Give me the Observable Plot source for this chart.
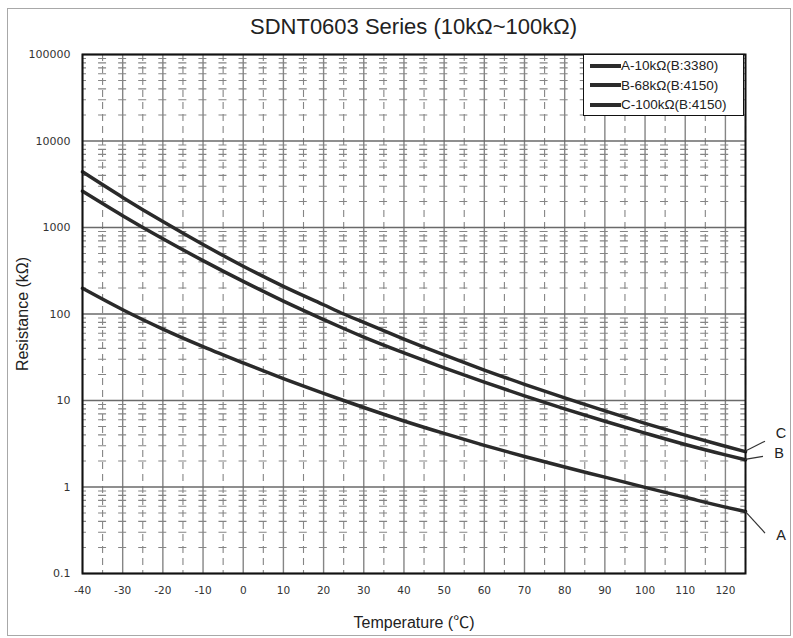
<!DOCTYPE html>
<html>
<head>
<meta charset="utf-8">
<script src="https://cdn.jsdelivr.net/npm/d3@7"></script>
<script src="https://cdn.jsdelivr.net/npm/@observablehq/plot@0.6"></script>
<style>
  html, body { margin: 0; padding: 0; background: #fff; }
  #wrap { position: relative; width: 793px; height: 638px; overflow: hidden; font-family: "Liberation Sans", Arial, sans-serif; }
  #border { position: absolute; left: 7px; top: 8px; width: 784px; height: 628px; border: 1px solid #a8a8a8; box-sizing: border-box; }
  #title { position: absolute; left: 82px; width: 663px; top: 14px; text-align: center; font-size: 22px; color: #222; }
  #chart { position: absolute; left: 0; top: 40px; }
  #legend { position: absolute; left: 583px; top: 54px; width: 161px; height: 62px; border: 1.5px solid #111; background: #fff; box-sizing: border-box; font-family: "Liberation Sans", Arial, sans-serif; font-size: 13.5px; color: #222; padding-top: 1px; }
  .item { height: 19.5px; display: flex; align-items: center; white-space: nowrap; }
  .sw { width: 31px; height: 4px; background: #2b2b2b; margin-left: 6px; }
</style>
</head>
<body>
<div id="wrap">
  <div id="border"></div>
  <div id="title">SDNT0603 Series (10kΩ~100kΩ)</div>
  <div id="chart"></div>
  <div id="legend"></div>
</div>
<script>
// Data (kΩ vs °C)
const temps = [-40, -30, -20, -10, 0, 10, 20, 25, 30, 40, 50, 60, 70, 80, 90, 100, 110, 120, 125];
const seriesA = [198, 112, 67, 42, 27.2, 17.9, 12.1, 10, 8.3, 5.8, 4.16, 3.03, 2.25, 1.7, 1.3, 0.99, 0.76, 0.585, 0.52];
const seriesB = [2630, 1371, 741, 414, 238, 141, 86.3, 68, 54.1, 35.5, 23.8, 16.3, 11.3, 8.0, 5.75, 4.2, 3.1, 2.35, 2.06];
const seriesC = [4400, 2228, 1170, 635, 357, 209, 128, 100, 80, 51.3, 33.6, 22.5, 15.4, 10.7, 7.57, 5.45, 3.98, 2.96, 2.56];
const seriesNames = ["A", "B", "C"];
const legendLabels = ["A-10kΩ(B:3380)", "B-68kΩ(B:4150)", "C-100kΩ(B:4150)"];
const xTicks = [-40, -30, -20, -10, 0, 10, 20, 30, 40, 50, 60, 70, 80, 90, 100, 110, 120];
const yTicks = [0.1, 1, 10, 100, 1000, 10000, 100000];
const yTickLabels = ["0.1", "1", "10", "100", "1000", "10000", "100000"];
const xMinor = [-35, -25, -15, -5, 5, 15, 25, 35, 45, 55, 65, 75, 85, 95, 105, 115, 125];
const yMinor = [];
for (let d = 0.1; d < 100000; d *= 10) for (let k = 2; k <= 9; k++) yMinor.push(+(d * k).toPrecision(3));

const allSeries = [seriesA, seriesB, seriesC];
const rows = [];
allSeries.forEach((vals, i) => temps.forEach((t, j) => rows.push({ s: seriesNames[i], T: t, R: vals[j] })));

const yFmt = (d) => yTickLabels[yTicks.findIndex((v) => Math.abs(v - d) / v < 1e-6)];
const xFmt = (d) => String(d); // plain hyphen-minus as in the reference
const labelFont = "Liberation Sans, Arial, Noto Sans CJK SC, sans-serif";
const grid = "#858585";

const plot = Plot.plot({
  width: 793,
  height: 598,
  marginTop: 14,
  marginRight: 48,
  marginBottom: 65,
  marginLeft: 82,
  style: { fontFamily: "DejaVu Sans, sans-serif", background: "transparent", overflow: "visible" },
  x: { domain: [-40, 125], label: null },
  y: { type: "log", domain: [0.1, 100000], label: null },
  marks: [
    Plot.ruleY(yMinor, { stroke: grid, strokeWidth: 1.1, strokeDasharray: "8 12.07", strokeDashoffset: 4 }),
    Plot.ruleX(xMinor, { stroke: grid, strokeWidth: 1.1, strokeDasharray: "7 5" }),
    Plot.ruleX(xTicks, { stroke: grid, strokeWidth: 1.4 }),
    Plot.ruleY(yTicks, { stroke: "#6a6a6a", strokeWidth: 1.6 }),
    Plot.line(rows, { x: "T", y: "R", z: "s", stroke: "#2a2a2a", strokeWidth: 3.5, curve: "monotone-x" }),
    Plot.frame({ stroke: "#111", strokeWidth: 2 }),
    Plot.axisX({ ticks: xTicks, tickFormat: xFmt, tickSize: 0, tickPadding: 13, fontSize: 10.5, fill: "#333", label: null }),
    Plot.axisY({ ticks: yTicks, tickFormat: yFmt, tickSize: 0, tickPadding: 12, fontSize: 11, fill: "#333", label: null }),
    Plot.text(["Temperature (℃)"], { frameAnchor: "bottom", textAnchor: "middle", dy: 54, fontSize: 16, fontFamily: labelFont, fill: "#222" }),
    Plot.text(["Resistance (kΩ)"], { frameAnchor: "left", textAnchor: "middle", dx: -60, rotate: -90, fontSize: 16, fontFamily: labelFont, fill: "#222" })
  ]
});
document.getElementById("chart").appendChild(plot);

// end labels with leader lines (anchored through Plot's scales)
const sx = plot.scale("x"), sy = plot.scale("y");
const svg = d3.select(plot);
const lastT = temps[temps.length - 1];
const leader = { A: [20, 22, 2], B: [18, -3, -3], C: [20, -10, -8] };
allSeries.forEach((vals, i) => {
  const name = seriesNames[i];
  const px = sx.apply(lastT), py = sy.apply(vals[vals.length - 1]);
  const [ox, oy, ly] = leader[name];
  svg.append("line").attr("x1", px).attr("y1", py).attr("x2", px + ox).attr("y2", py + oy)
    .attr("stroke", "#333").attr("stroke-width", 1.2);
  svg.append("text").attr("x", px + ox + 16).attr("y", py + oy + ly)
    .attr("dy", "0.35em").attr("text-anchor", "middle")
    .attr("font-family", labelFont).attr("font-size", 14.5).attr("fill", "#222").text(name);
});

// legend
const lg = document.getElementById("legend");
legendLabels.forEach((lab) => {
  const it = document.createElement("div");
  it.className = "item";
  it.innerHTML = '<span class="sw"></span><span>' + lab + '</span>';
  lg.appendChild(it);
});
</script>
</body>
</html>
